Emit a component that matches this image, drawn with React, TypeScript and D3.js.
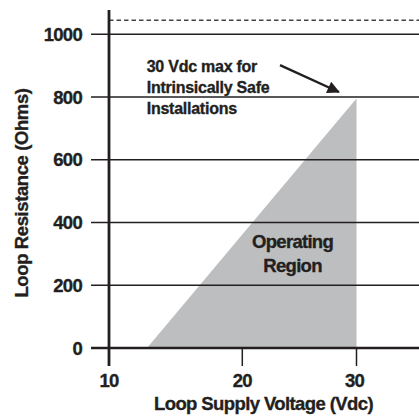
import React from "react";
import * as d3 from "d3";

// ---- data ----
const xTickValues = [10, 20, 30];
const xTickLabels = ["10", "20", "30"];
const yTickValues = [0, 200, 400, 600, 800, 1000];
const yTickLabels = ["0", "200", "400", "600", "800", "1000"];
const dashedLimit = 1045; // ohms, dashed reference line
// operating region polygon (Vdc, Ohms)
const regionVolts = [12.85, 30, 30];
const regionOhms = [0, 795, 0];
// annotation
const noteLines = ["30 Vdc max for", "Intrinsically Safe", "Installations"];
const noteAnchor = { v: 12.83, r: 879 };
const arrowFrom = { v: 23.3, r: 902 };
const arrowTo = { v: 28.45, r: 816 };
const regionLabel = ["Operating", "Region"];
const regionLabelAnchor = { v: 24.4, r: 319 };

const W = 419;
const H = 418;
const FONT = "'Liberation Sans', Arial, Helvetica, sans-serif";
const INK = "#231f20";

export default function App() {
  // piecewise-linear x scale (axis origin labelled 10)
  const x = d3.scaleLinear().domain([10, 20, 30, 35.5]).range([109, 242.3, 356.5, 419]);
  const y = d3.scaleLinear().domain([0, 1000]).range([348, 34.3]);

  const gridLeft = 91;
  const gridRight = W;

  const region = d3.line<[number, number]>()
    .x((d) => x(d[0]))
    .y((d) => y(d[1]))
    .curve(d3.curveLinearClosed)(regionVolts.map((v, i) => [v, regionOhms[i]]));

  const lineH = 21;
  const textStyle = { stroke: INK, strokeWidth: 0.35 } as const;

  return (
    <svg
      width={W}
      height={H}
      viewBox={`0 0 ${W} ${H}`}
      style={{ position: "absolute", left: 0, top: 0, background: "#fff" }}
    >
      <defs>
        <marker
          id="arrowhead"
          viewBox="0 0 10 10"
          refX="9"
          refY="5"
          markerWidth="6.5"
          markerHeight="5.2"
          markerUnits="strokeWidth"
          orient="auto"
        >
          <path d="M0,0 L10,5 L0,10 z" fill={INK} />
        </marker>
      </defs>

      {/* operating region */}
      <path d={region ?? ""} fill="#bcbec0" stroke="none" />

      {/* dashed limit */}
      <line
        x1={x(10)}
        x2={gridRight}
        y1={y(dashedLimit)}
        y2={y(dashedLimit)}
        stroke="#444"
        strokeWidth={1.5}
        strokeDasharray="4.5 3"
      />

      {/* gridlines */}
      {yTickValues.filter((v) => v !== 0).map((v) => (
        <line
          key={v}
          x1={gridLeft}
          x2={gridRight}
          y1={y(v)}
          y2={y(v)}
          stroke={INK}
          strokeWidth={1.4}
        />
      ))}

      {/* x axis */}
      <line x1={gridLeft} x2={gridRight} y1={y(0)} y2={y(0)} stroke={INK} strokeWidth={2.6} />
      {/* x ticks */}
      {xTickValues.slice(1).map((v) => (
        <line key={v} x1={x(v)} x2={x(v)} y1={y(0)} y2={366} stroke={INK} strokeWidth={1.5} />
      ))}
      {/* y axis */}
      <line x1={x(10)} x2={x(10)} y1={10} y2={366} stroke={INK} strokeWidth={2.8} />

      {/* y tick labels */}
      {yTickValues.map((v, i) => (
        <text
          key={v}
          x={82}
          y={y(v)}
          dy="0.36em"
          textAnchor="end"
          fontFamily={FONT}
          fontWeight="bold"
          fontSize={18.5}
          letterSpacing={-0.7}
          fill={INK}
          style={textStyle}
        >
          {yTickLabels[i]}
        </text>
      ))}

      {/* x tick labels */}
      {xTickValues.map((v, i) => (
        <text
          key={v}
          x={x(v) - (i === 2 ? 2 : 0)}
          y={387}
          textAnchor="middle"
          fontFamily={FONT}
          fontWeight="bold"
          fontSize={18.5}
          letterSpacing={-0.7}
          fill={INK}
          style={textStyle}
        >
          {xTickLabels[i]}
        </text>
      ))}

      {/* axis titles */}
      <text
        x={263.5}
        y={410}
        textAnchor="middle"
        fontFamily={FONT}
        fontWeight="bold"
        fontSize={18.5}
        letterSpacing={-0.6}
        fill={INK}
        style={textStyle}
      >
        Loop Supply Voltage (Vdc)
      </text>
      <text
        transform="translate(28,193) rotate(-90)"
        textAnchor="middle"
        fontFamily={FONT}
        fontWeight="bold"
        fontSize={18.5}
        letterSpacing={-0.4}
        fill={INK}
        style={textStyle}
      >
        Loop Resistance (Ohms)
      </text>

      {/* annotation */}
      {noteLines.map((t, i) => (
        <text
          key={t}
          x={x(noteAnchor.v)}
          y={y(noteAnchor.r) + i * lineH}
          fontFamily={FONT}
          fontWeight="bold"
          fontSize={16}
          letterSpacing={-0.25}
          fill={INK}
          style={textStyle}
        >
          {t}
        </text>
      ))}
      <line
        x1={x(arrowFrom.v)}
        y1={y(arrowFrom.r)}
        x2={x(arrowTo.v)}
        y2={y(arrowTo.r)}
        stroke={INK}
        strokeWidth={2.4}
        markerEnd="url(#arrowhead)"
      />

      {/* region label */}
      {regionLabel.map((t, i) => (
        <text
          key={t}
          x={x(regionLabelAnchor.v)}
          y={y(regionLabelAnchor.r) + i * 24.5}
          textAnchor="middle"
          fontFamily={FONT}
          fontWeight="bold"
          fontSize={18.5}
          letterSpacing={-0.7}
          fill={INK}
          style={textStyle}
        >
          {t}
        </text>
      ))}
    </svg>
  );
}
